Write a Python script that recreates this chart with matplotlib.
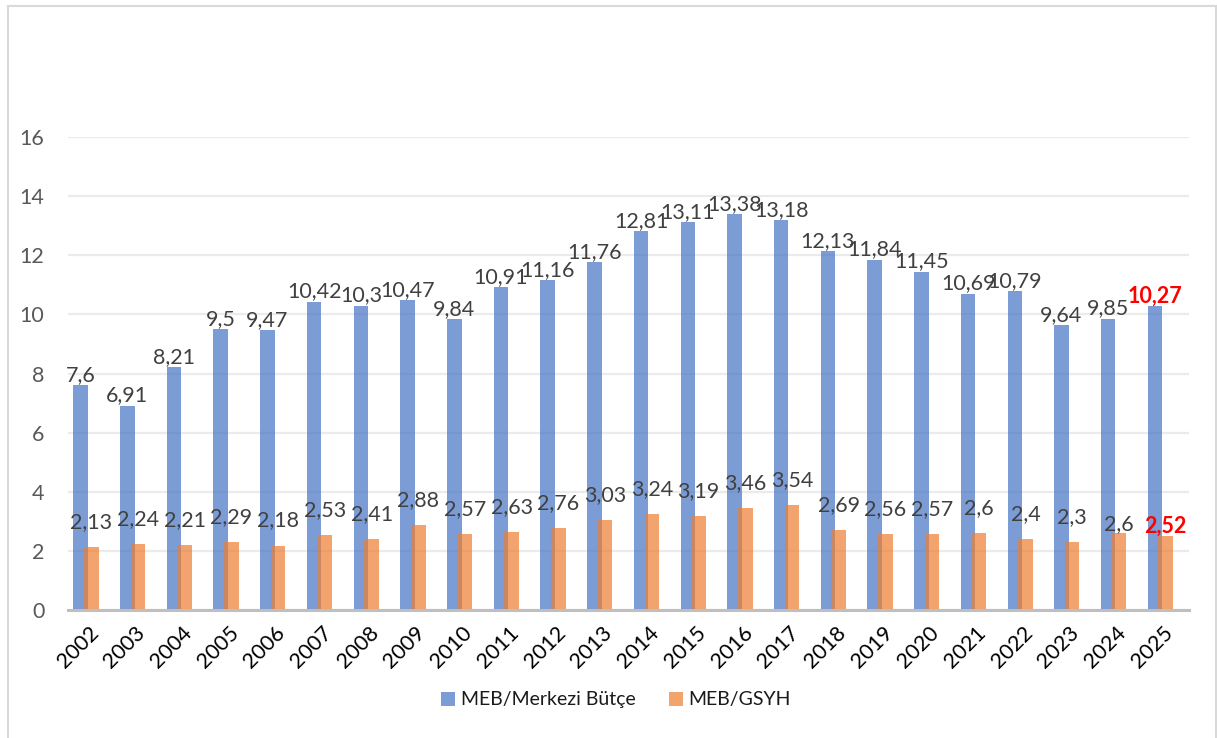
import matplotlib
matplotlib.use("Agg")
import matplotlib.pyplot as plt
import matplotlib.transforms as mtransforms
from matplotlib.lines import Line2D
from matplotlib.patches import Patch
import numpy as np

plt.rcParams['font.family'] = ['Lato', 'DejaVu Sans']

years = [str(y) for y in range(2002, 2026)]
butce = [7.6, 6.91, 8.21, 9.5, 9.47, 10.42, 10.3, 10.47, 9.84, 10.91, 11.16, 11.76,
         12.81, 13.11, 13.38, 13.18, 12.13, 11.84, 11.45, 10.69, 10.79, 9.64, 9.85, 10.27]
gsyh = [2.13, 2.24, 2.21, 2.29, 2.18, 2.53, 2.41, 2.88, 2.57, 2.63, 2.76, 3.03,
        3.24, 3.19, 3.46, 3.54, 2.69, 2.56, 2.57, 2.6, 2.4, 2.3, 2.6, 2.52]
series_names = ["MEB/Merkezi Bütçe", "MEB/GSYH"]
yticks = [0, 2, 4, 6, 8, 10, 12, 14, 16]

blue = '#7C9CD6'
orange = '#F2A46F'
W, H = 1217, 738
fig = plt.figure(figsize=(W / 100, H / 100), dpi=100)
ax = fig.add_axes([68 / W, 1 - 610 / H, (1189 - 68) / W, (610 - 137) / H])

x = np.arange(len(years))
bw = 0.31
ax.bar(x - 0.23, butce, width=bw, color='#4472C4', alpha=0.7, zorder=2, linewidth=0)
ax.bar(x, gsyh, width=bw, color='#ED7D31', alpha=0.7, zorder=3, linewidth=0)

ax.set_xlim(-0.5, len(years) - 0.5)
ax.set_ylim(0, 16)
ax.set_yticks(yticks)
ax.set_yticklabels([str(v) for v in yticks])
ax.yaxis.grid(True, color='#EBEBEB', linewidth=1.6, zorder=0)
ax.set_axisbelow(True)
for s in ['top', 'right', 'left']:
    ax.spines[s].set_visible(False)
ax.spines['bottom'].set_color('#BFBFBF')
ax.spines['bottom'].set_linewidth(2.2)
ax.spines['bottom'].set_zorder(4)
ax.tick_params(axis='y', length=0, pad=17, labelsize=15.5, labelcolor='#595959')
ax.tick_params(axis='x', length=0, pad=10, labelsize=15.5, labelcolor='#000000')
ax.set_xticks(x)
ax.set_xticklabels(years, rotation=45, ha='right', va='center', rotation_mode='anchor')
off = mtransforms.ScaledTranslation(4 / 100, -6 / 100, fig.dpi_scale_trans)
for lab in ax.get_xticklabels():
    lab.set_transform(lab.get_transform() + off)

def fmt(v):
    return ('%g' % v).replace('.', ',')

n = len(years)
for i in range(n):
    last = (i == n - 1)
    col = 'red' if last else '#404040'
    fw = 'bold' if last else 'normal'
    ax.annotate(fmt(butce[i]), (x[i] - 0.23, butce[i]), xytext=(0, 7.5),
                textcoords='offset points', ha='center', va='center',
                fontsize=15.5, color=col, fontweight=fw, zorder=5)
    dy = 18 if i < n - 2 else 6.5
    ax.annotate(fmt(gsyh[i]), (x[i], gsyh[i]), xytext=(0, dy),
                textcoords='offset points', ha='center', va='center',
                fontsize=15.5, color=col, fontweight=fw, zorder=5)

handles = [Patch(facecolor=blue, edgecolor='none'), Patch(facecolor=orange, edgecolor='none')]
fig.legend(handles, series_names, loc='center', bbox_to_anchor=(616 / W, 1 - 700 / H),
           ncol=2, frameon=False, fontsize=14, handlelength=0.72, handleheight=0.72,
           handletextpad=0.3, columnspacing=1.7, labelcolor='#1a1a1a')

# outer border
bc = '#D9D9D9'
fig.add_artist(Line2D([7.5 / W, 7.5 / W], [0, 1 - 5.5 / H], color=bc, linewidth=1.5, transform=fig.transFigure))
fig.add_artist(Line2D([7.5 / W, 1215.5 / W], [1 - 5.5 / H, 1 - 5.5 / H], color=bc, linewidth=1.5, transform=fig.transFigure))
fig.add_artist(Line2D([1215.5 / W, 1215.5 / W], [0, 1 - 5.5 / H], color=bc, linewidth=1.5, transform=fig.transFigure))

fig.savefig('out.png', dpi=100)
